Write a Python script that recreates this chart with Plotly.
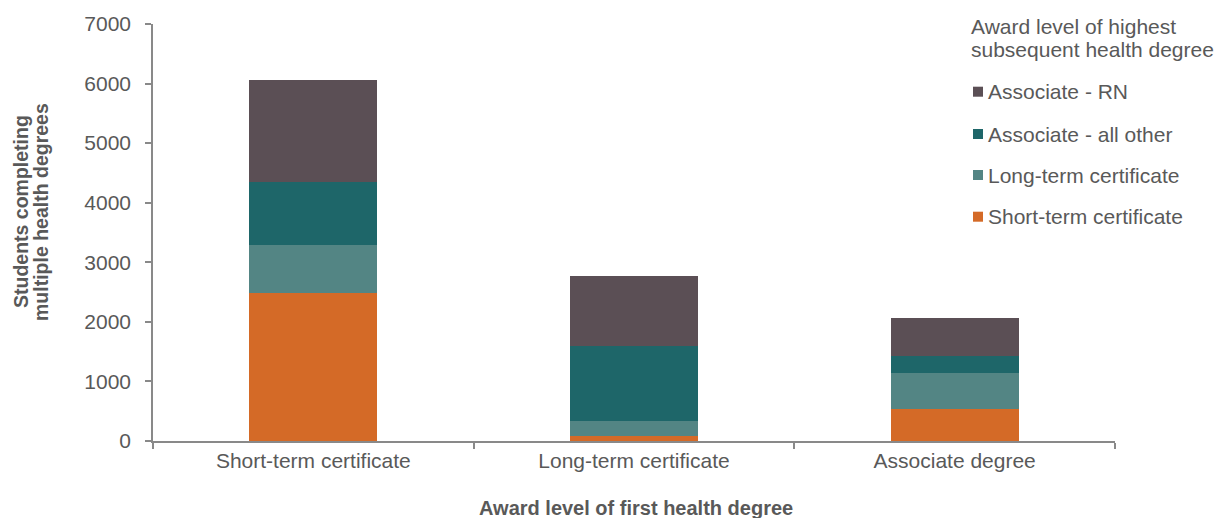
import plotly.graph_objects as go

# First health degree earned (x categories)
first_degree = ["Short-term certificate", "Long-term certificate", "Associate degree"]

# Highest subsequent health degree, stacked bottom to top
short_term = [2490, 84, 532]
long_term = [794, 258, 604]
assoc_other = [1068, 1258, 297]
assoc_rn = [1712, 1168, 637]

series_names = ["Short-term certificate", "Long-term certificate",
                "Associate - all other", "Associate - RN"]
series_values = [short_term, long_term, assoc_other, assoc_rn]
series_colors = ["#D46A27", "#538584", "#1E6669", "#5B4F55"]

y_ticks = [0, 1000, 2000, 3000, 4000, 5000, 6000, 7000]

W, H = 1217, 518
M_L, M_R, M_T, M_B = 153, 102, 24, 77
PW, PH = W - M_L - M_R, H - M_T - M_B

TEXT = "#595959"
AXIS = "#898989"
FONT = "Liberation Sans, Arial, sans-serif"


def px_x(p):
    return (p - M_L) / PW


def px_y(p):
    return (H - M_B - p) / PH


fig = go.Figure()
for name, vals, col in zip(series_names, series_values, series_colors):
    fig.add_trace(go.Bar(x=first_degree, y=vals, name=name,
                         marker=dict(color=col, line=dict(width=0)),
                         showlegend=False))

annotations = []
shapes = []

# Legend title
for txt, yc in [("Award level of highest", 26.7), ("subsequent health degree", 49.3)]:
    annotations.append(dict(text=txt, xref="paper", yref="paper",
                            x=px_x(969), y=px_y(yc), xanchor="left", yanchor="middle",
                            showarrow=False, font=dict(size=21, color=TEXT, family=FONT)))

# Legend entries, top entry is the last stacked series
legend_rows = [91.7, 134, 175, 216.7]
for row, idx in zip(legend_rows, [3, 2, 1, 0]):
    shapes.append(dict(type="rect", xref="paper", yref="paper",
                       x0=px_x(973), x1=px_x(983), y0=px_y(row + 5), y1=px_y(row - 5),
                       fillcolor=series_colors[idx], line=dict(width=0)))
    annotations.append(dict(text=series_names[idx], xref="paper", yref="paper",
                            x=px_x(986), y=px_y(row), xanchor="left", yanchor="middle",
                            showarrow=False, font=dict(size=21, color=TEXT, family=FONT)))

# Axis titles
annotations.append(dict(text="<b>Award level of first health degree</b>",
                        xref="paper", yref="paper", x=px_x(635.5), y=px_y(508),
                        xanchor="center", yanchor="middle", showarrow=False,
                        font=dict(size=20, color=TEXT, family=FONT)))
for txt, xc in [("<b>Students completing</b>", 21), ("<b>multiple health degrees</b>", 41)]:
    annotations.append(dict(text=txt, xref="paper", yref="paper",
                            x=px_x(xc), y=px_y(212), xanchor="center", yanchor="middle",
                            textangle=-90, showarrow=False,
                            font=dict(size=19.5, color=TEXT, family=FONT)))

fig.update_layout(
    width=W, height=H,
    margin=dict(l=M_L, r=M_R, t=M_T, b=M_B),
    barmode="stack", bargap=0.6,
    plot_bgcolor="white", paper_bgcolor="white",
    font=dict(family=FONT, size=21, color=TEXT),
    annotations=annotations, shapes=shapes,
    xaxis=dict(type="category", showline=True, linecolor=AXIS, linewidth=1.5,
               ticks="outside", tickson="boundaries", ticklen=6, tickcolor=AXIS,
               tickwidth=1.5, showgrid=False, tickfont=dict(size=21, color=TEXT)),
    yaxis=dict(range=[0, 7000], tickvals=y_ticks, showline=True, linecolor=AXIS,
               linewidth=1.5, ticks="outside", ticklen=6, tickcolor=AXIS, tickwidth=1.5,
               showgrid=False, zeroline=False, ticklabelstandoff=10,
               tickfont=dict(size=21, color=TEXT)),
)

fig.write_html("out.html")
